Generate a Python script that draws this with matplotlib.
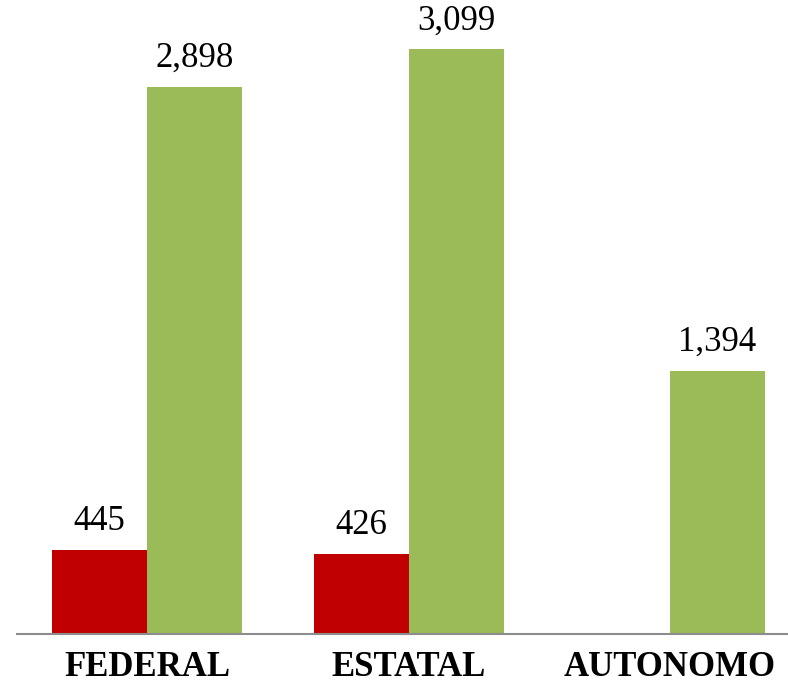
import matplotlib
matplotlib.use("Agg")
import matplotlib.pyplot as plt
import numpy as np

categories = ["FEDERAL", "ESTATAL", "AUTONOMO"]
red_values = [445, 426, None]
green_values = [2898, 3099, 1394]

W, H = 788, 686
fig = plt.figure(figsize=(W / 100, H / 100), dpi=100)
base_px = 634
ax = fig.add_axes([17 / W, (H - base_px) / H, (W - 17) / W, base_px / H])

x = np.arange(len(categories))
bw = 0.3633

red_x = [xi - bw / 2 for xi, v in zip(x, red_values) if v is not None]
red_v = [v for v in red_values if v is not None]
bars_r = ax.bar(red_x, red_v, width=bw, color="#C00000")
bars_g = ax.bar(x + bw / 2, green_values, width=bw, color="#9BBB59")

for bars in (bars_r, bars_g):
    for b in bars:
        ax.annotate(f"{int(b.get_height()):,}",
                    (b.get_x() + b.get_width() / 2, b.get_height()),
                    xytext=(0, 14.5), textcoords="offset points",
                    ha="center", va="baseline",
                    fontsize=25, family="Liberation Serif", color="black")

ax.set_xlim(-0.497, 2.451)
ax.set_ylim(0, 3361)
ax.set_yticks([])
ax.set_xticks(x)
ax.set_xticklabels(categories, fontsize=25, fontweight="bold",
                   family="Liberation Serif")
ax.tick_params(axis="x", length=0, pad=12.5)
for s in ("top", "right", "left"):
    ax.spines[s].set_visible(False)
ax.spines["bottom"].set_color("#8C8C8C")
ax.spines["bottom"].set_linewidth(1.5)

fig.savefig("out.png", dpi=100)
